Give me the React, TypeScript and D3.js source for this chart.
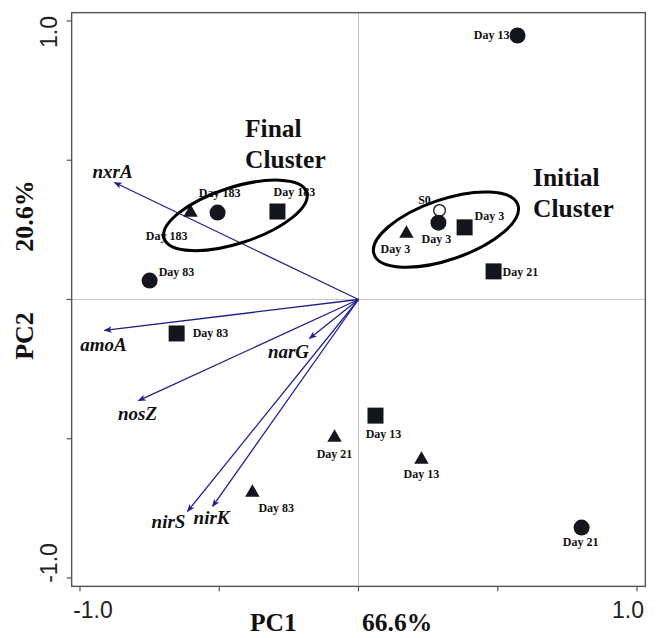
import React from 'react';
import * as d3 from 'd3';

// ---------- data ----------
const axisTicks = [-1, -0.5, 0, 0.5, 1];
const tickLabelValues = [-1, 1];
const tickLabelTexts = ['-1.0', '1.0'];
const axisNames = ['PC1', 'PC2'];
const axisExplained = ['66.6%', '20.6%'];

const sampleNames = ['S0', 'Day 3', 'Day 3', 'Day 3', 'Day 21', 'Day 13', 'Day 183', 'Day 183', 'Day 183', 'Day 83', 'Day 83', 'Day 83', 'Day 13', 'Day 21', 'Day 13', 'Day 21'];
const sampleShapes = ['open', 'circle', 'triangle', 'square', 'square', 'circle', 'triangle', 'circle', 'square', 'circle', 'square', 'triangle', 'square', 'triangle', 'triangle', 'circle'];
const samplePC1 = [0.291, 0.287, 0.172, 0.381, 0.485, 0.571, -0.603, -0.506, -0.291, -0.750, -0.653, -0.381, 0.061, -0.086, 0.226, 0.801];
const samplePC2 = [0.320, 0.276, 0.237, 0.259, 0.101, 0.948, 0.312, 0.312, 0.316, 0.068, -0.122, -0.693, -0.417, -0.496, -0.575, -0.819];

const geneNames = ['nxrA', 'amoA', 'narG', 'nosZ', 'nirS', 'nirK'];
const genePC1 = [-0.876, -0.912, -0.176, -0.790, -0.614, -0.524];
const genePC2 = [0.420, -0.111, -0.140, -0.363, -0.761, -0.743];

const clusterLines = [['Final', 'Cluster'], ['Initial', 'Cluster']];
const clusterCX = [-0.442, 0.314];
const clusterCY = [0.302, 0.251];
const clusterRX = [0.269, 0.273];
const clusterRY = [0.1005, 0.108];
const clusterAngle = [-18, -19];

// ---------- layout (label placement in px) ----------
const sampleLabelDX = [-15, -2, -11, 10, 9, -8, -24, 2, 17, 9, 16, 6, 8, 0, 0, -1];
const sampleLabelDY = [-6, 20, 20, -7, 5, 4, 27, -16, -15, -5, 4, 19, 22, 20, 18, 18];
const sampleLabelAnchor = ['middle', 'middle', 'middle', 'start', 'start', 'end', 'middle', 'middle', 'middle', 'start', 'start', 'start', 'middle', 'middle', 'middle', 'middle'];
const geneLabelDX = [-2, -1, -21, -1, -19, -1];
const geneLabelDY = [-5, 21, 20, 19, 17, 18];
const clusterTextX = [245, 533];
const clusterTextY = [137, 186];

const W = 657;
const H = 638;
const SERIF = '"Liberation Serif", "Times New Roman", serif';
const SANS = '"Liberation Sans", Arial, sans-serif';
const INK = '#13161d';
const ARROW = '#20208e';

export default function App() {
  const x = d3.scaleLinear().domain([-1, 1]).range([80, 637]);
  const y = d3.scaleLinear().domain([-1, 1]).range([578, 21]);
  const ext = 1.03;
  const left = x(-ext), right = x(ext), top = y(ext), bottom = y(-ext);
  const unit = x(1) - x(0);
  const tri = d3.symbol().type(d3.symbolTriangle).size(90)();

  return (
    <div style={{ position: 'absolute', left: 0, top: 0 }}>
      <svg width={W} height={H} style={{ display: 'block', background: '#fff' }}>
        <defs>
          <marker id="ah" viewBox="0 0 10 10" refX="9" refY="5" markerWidth="10" markerHeight="8" markerUnits="userSpaceOnUse" orient="auto">
            <path d="M0,1 L10,5 L0,9 L2.5,5 Z" fill={ARROW} />
          </marker>
        </defs>
        {/* grid lines through origin */}
        <line x1={x(0)} x2={x(0)} y1={top} y2={bottom} stroke="#c4c4c4" strokeWidth={1} />
        <line x1={left} x2={right} y1={y(0)} y2={y(0)} stroke="#c4c4c4" strokeWidth={1} />
        {/* frame */}
        <rect x={left} y={top} width={right - left} height={bottom - top} fill="none" stroke="#555" strokeWidth={1.4} />
        {/* ticks */}
        {axisTicks.map((t) => (
          <line key={'yt' + t} x1={left} x2={left - 5} y1={y(t)} y2={y(t)} stroke="#555" strokeWidth={1.2} />
        ))}
        {axisTicks.map((t) => (
          <line key={'xt' + t} x1={x(t)} x2={x(t)} y1={bottom} y2={bottom + 5} stroke="#555" strokeWidth={1.2} />
        ))}
        {/* tick labels */}
        {tickLabelValues.map((v, i) => (
          <text key={'xl' + i} x={x(v) + (v < 0 ? 13 : -9)} y={618} textAnchor="middle" fontFamily={SANS} fontSize={23} fill="#222">
            {tickLabelTexts[i]}
          </text>
        ))}
        {tickLabelValues.map((v, i) => (
          <text key={'yl' + i} transform={`translate(57,${y(v) + (v < 0 ? -15 : 11)}) rotate(-90)`} textAnchor="middle" fontFamily={SANS} fontSize={23} fill="#222">
            {tickLabelTexts[i]}
          </text>
        ))}
        {/* axis titles */}
        <text x={250} y={631} fontFamily={SERIF} fontWeight="bold" fontSize={25.5} fill="#111">{axisNames[0]}</text>
        <text x={362} y={631} fontFamily={SERIF} fontWeight="bold" fontSize={25.5} fill="#111">{axisExplained[0]}</text>
        <text transform="translate(33,336) rotate(-90)" textAnchor="middle" fontFamily={SERIF} fontWeight="bold" fontSize={26} fill="#111">{axisNames[1]}</text>
        <text transform="translate(33,216) rotate(-90)" textAnchor="middle" fontFamily={SERIF} fontWeight="bold" fontSize={26} fill="#111">{axisExplained[1]}</text>
        {/* gene vectors */}
        {geneNames.map((g, i) => (
          <line key={'gv' + i} x1={x(0)} y1={y(0)} x2={x(genePC1[i])} y2={y(genePC2[i])} stroke={ARROW} strokeWidth={1.3} markerEnd="url(#ah)" />
        ))}
        {geneNames.map((g, i) => (
          <text key={'gl' + i} x={x(genePC1[i]) + geneLabelDX[i]} y={y(genePC2[i]) + geneLabelDY[i]} textAnchor="middle" fontFamily={SERIF} fontStyle="italic" fontWeight="bold" fontSize={19} fill="#111">
            {g}
          </text>
        ))}
        {/* samples */}
        {sampleNames.map((n, i) => {
          const cx = x(samplePC1[i]);
          const cy = y(samplePC2[i]);
          const s = sampleShapes[i];
          if (s === 'circle') return <circle key={'s' + i} cx={cx} cy={cy} r={8} fill={INK} />;
          if (s === 'open') return <circle key={'s' + i} cx={cx} cy={cy} r={5.8} fill="#fff" stroke={INK} strokeWidth={1.3} />;
          if (s === 'square') return <rect key={'s' + i} x={cx - 8} y={cy - 8} width={16} height={16} fill={INK} />;
          return <path key={'s' + i} d={tri} transform={`translate(${cx},${cy})`} fill={INK} />;
        })}
        {sampleNames.map((n, i) => (
          <text key={'sl' + i} x={x(samplePC1[i]) + sampleLabelDX[i]} y={y(samplePC2[i]) + sampleLabelDY[i]} textAnchor={sampleLabelAnchor[i] as any} fontFamily={SERIF} fontWeight="bold" fontSize={12} fill="#111">
            {n}
          </text>
        ))}
        {/* cluster ellipses */}
        {clusterLines.map((c, i) => (
          <ellipse key={'ce' + i} cx={0} cy={0} rx={clusterRX[i] * unit} ry={clusterRY[i] * unit} transform={`translate(${x(clusterCX[i])},${y(clusterCY[i])}) rotate(${clusterAngle[i]})`} fill="none" stroke="#000" strokeWidth={3} />
        ))}
        {clusterLines.map((c, i) => (
          <text key={'ct' + i} fontFamily={SERIF} fontWeight="bold" fontSize={25.5} fill="#111">
            {c.map((line, j) => (
              <tspan key={j} x={clusterTextX[i]} y={clusterTextY[i] + j * 30.5}>{line}</tspan>
            ))}
          </text>
        ))}
      </svg>
    </div>
  );
}
